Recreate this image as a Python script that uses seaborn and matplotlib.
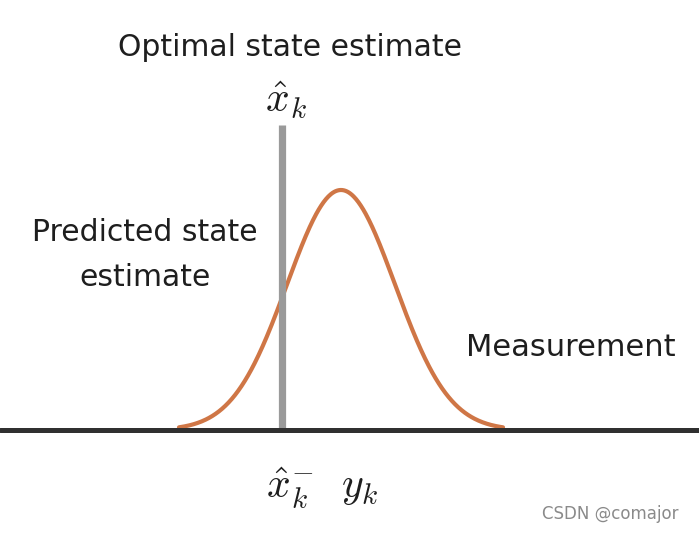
import numpy as np
import pandas as pd
import matplotlib
matplotlib.use("Agg")
import matplotlib.pyplot as plt
import seaborn as sns

# Measurement distribution (state axis in units of the measurement std)
measurement_mean = 0.0
measurement_std = 1.0
curve_span = 3.0  # curve drawn over +/- 3 std

# Optimal state estimate position and height of its marker line
estimate_x = -1.1
estimate_top = 1.27

# Labels
title_label = "Optimal state estimate"
estimate_label = r"$\hat{x}_k$"
predicted_label = "Predicted state\nestimate"
measurement_label = "Measurement"
bottom_label = r"$\hat{x}_k^{-}\ \ y_k$"
watermark = "CSDN @comajor"

sns.set_theme(style="white")
plt.rcParams["font.family"] = ["DejaVu Sans"]
plt.rcParams["mathtext.fontset"] = "cm"

# build the bell curve from the mean/std
xs = np.linspace(measurement_mean - curve_span * measurement_std,
                 measurement_mean + curve_span * measurement_std, 400)
ys = np.exp(-0.5 * ((xs - measurement_mean) / measurement_std) ** 2)
df = pd.DataFrame({"state": xs, "density": ys})

fig = plt.figure(figsize=(6.99, 5.34), dpi=100)
ax = fig.add_axes([0, 0, 1, 1])

# baseline (drawn over the curve tails)
ax.axhline(0, color="#303030", lw=3.6, zorder=4)
# optimal estimate marker
ax.plot([estimate_x, estimate_x], [0, estimate_top], color="#9a9a9a", lw=5.2,
        solid_capstyle="butt", zorder=3)
# measurement curve
sns.lineplot(data=df, x="state", y="density", color="#cf7646", lw=3.0,
             ax=ax, zorder=2)

# pixel-like layout: 54 px per std, 240 px per unit height, baseline at 430 px
ax.set_xlim((0 - 341) / 54, (699 - 341) / 54)
ax.set_ylim((430 - 534) / 240, (430 - 0) / 240)
ax.set_axis_off()

def fx(px):
    return px / 699

def fy(py):
    return 1 - py / 534

ax.text(fx(290), fy(47), title_label, transform=ax.transAxes, ha="center",
        va="center", fontsize=21.5, color="#1e1e1e")
ax.text(fx(286), fy(100), estimate_label, transform=ax.transAxes, ha="center",
        va="center", fontsize=30, color="#1e1e1e")
ax.text(fx(145), fy(255), predicted_label, transform=ax.transAxes, ha="center",
        va="center", fontsize=21.5, color="#1e1e1e", linespacing=1.7)
ax.text(fx(571), fy(348), measurement_label, transform=ax.transAxes,
        ha="center", va="center", fontsize=22, color="#1e1e1e")
ax.text(fx(322), fy(488), bottom_label, transform=ax.transAxes, ha="center",
        va="center", fontsize=30, color="#1e1e1e")
ax.text(fx(610), fy(514), watermark, transform=ax.transAxes, ha="center",
        va="center", fontsize=12, color="#8a8a8a")

fig.savefig("out.png", dpi=100)
